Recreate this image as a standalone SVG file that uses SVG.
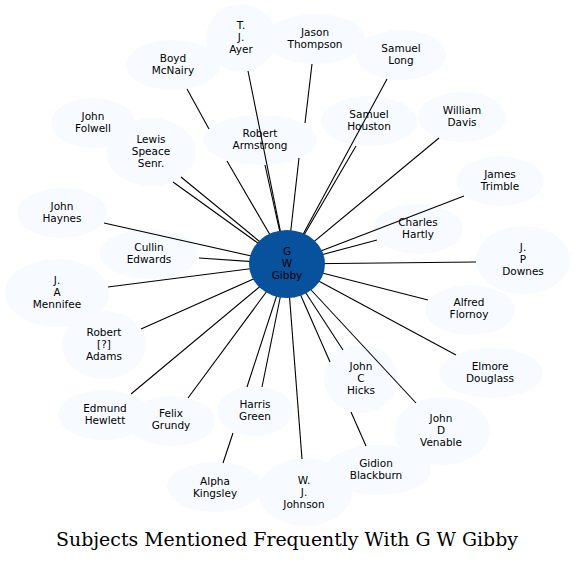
<svg xmlns="http://www.w3.org/2000/svg" width="576" height="562" viewBox="0 0 576 562">
<style>
.n ellipse{fill:#f7fbff;stroke:none}
.n text{font-family:"DejaVu Sans",sans-serif;font-size:10.5px;fill:#000;text-anchor:middle}
#edges line{stroke:#000;stroke-width:1.1}
.c ellipse{fill:#08519c}
.title{font-family:"DejaVu Serif",serif;font-size:18.9px;text-anchor:middle;fill:#000}
</style>
<rect width="576" height="562" fill="#fff"/>
<g id="node-folwell" class="n"><ellipse cx="93" cy="123" rx="42" ry="25"/><text x="93" y="120">John</text><text x="93" y="132">Folwell</text></g>
<g id="node-lewis" class="n"><ellipse cx="151" cy="152" rx="45" ry="34"/><text x="151" y="143">Lewis</text><text x="151" y="155">Speace</text><text x="151" y="167">Senr.</text></g>
<g id="node-ayer" class="n"><ellipse cx="241" cy="38" rx="35" ry="34"/><text x="241" y="29">T.</text><text x="241" y="41">J.</text><text x="241" y="53">Ayer</text></g>
<g id="node-thompson" class="n"><ellipse cx="315" cy="39" rx="50" ry="25"/><text x="315" y="36">Jason</text><text x="315" y="48">Thompson</text></g>
<g id="node-long" class="n"><ellipse cx="401" cy="55" rx="45" ry="25"/><text x="401" y="52">Samuel</text><text x="401" y="64">Long</text></g>
<g id="node-boyd" class="n"><ellipse cx="173" cy="65" rx="47" ry="25"/><text x="173" y="62">Boyd</text><text x="173" y="74">McNairy</text></g>
<g id="node-armstrong" class="n"><ellipse cx="260" cy="140" rx="57" ry="25"/><text x="260" y="137">Robert</text><text x="260" y="149">Armstrong</text></g>
<g id="node-houston" class="n"><ellipse cx="369" cy="121" rx="48" ry="25"/><text x="369" y="118">Samuel</text><text x="369" y="130">Houston</text></g>
<g id="node-davis" class="n"><ellipse cx="462" cy="117" rx="44" ry="25"/><text x="462" y="114">William</text><text x="462" y="126">Davis</text></g>
<g id="node-trimble" class="n"><ellipse cx="500" cy="181" rx="44" ry="25"/><text x="500" y="178">James</text><text x="500" y="190">Trimble</text></g>
<g id="node-hartly" class="n"><ellipse cx="418" cy="229" rx="45" ry="25"/><text x="418" y="226">Charles</text><text x="418" y="238">Hartly</text></g>
<g id="node-downes" class="n"><ellipse cx="523" cy="260" rx="47" ry="34"/><text x="523" y="251">J.</text><text x="523" y="263">P</text><text x="523" y="275">Downes</text></g>
<g id="node-haynes" class="n"><ellipse cx="62" cy="213" rx="45" ry="25"/><text x="62" y="210">John</text><text x="62" y="222">Haynes</text></g>
<g id="node-cullin" class="n"><ellipse cx="149" cy="254" rx="49" ry="25"/><text x="149" y="251">Cullin</text><text x="149" y="263">Edwards</text></g>
<g id="node-mennifee" class="n"><ellipse cx="57" cy="293" rx="52" ry="34"/><text x="57" y="284">J.</text><text x="57" y="296">A</text><text x="57" y="308">Mennifee</text></g>
<g id="node-adams" class="n"><ellipse cx="104" cy="345" rx="42" ry="34"/><text x="104" y="336">Robert</text><text x="104" y="348">[?]</text><text x="104" y="360">Adams</text></g>
<g id="node-hewlett" class="n"><ellipse cx="104" cy="415" rx="46" ry="25"/><text x="105" y="412">Edmund</text><text x="105" y="424">Hewlett</text></g>
<g id="node-grundy" class="n"><ellipse cx="171" cy="421" rx="44" ry="25"/><text x="171" y="417">Felix</text><text x="171" y="429">Grundy</text></g>
<g id="node-harris" class="n"><ellipse cx="255" cy="411" rx="38" ry="25"/><text x="255" y="408">Harris</text><text x="255" y="420">Green</text></g>
<g id="node-alpha" class="n"><ellipse cx="215" cy="487" rx="48" ry="25"/><text x="215" y="485">Alpha</text><text x="215" y="497">Kingsley</text></g>
<g id="node-gidion" class="n"><ellipse cx="378" cy="470" rx="53" ry="25"/><text x="376" y="467">Gidion</text><text x="376" y="479">Blackburn</text></g>
<g id="node-johnson" class="n"><ellipse cx="305" cy="492" rx="47" ry="34"/><text x="304" y="484">W.</text><text x="304" y="496">J.</text><text x="304" y="508">Johnson</text></g>
<g id="node-hicks" class="n"><ellipse cx="361" cy="379" rx="37" ry="34"/><text x="361" y="370">John</text><text x="361" y="382">C</text><text x="361" y="394">Hicks</text></g>
<g id="node-venable" class="n"><ellipse cx="442" cy="431" rx="48" ry="34"/><text x="441" y="422">John</text><text x="441" y="434">D</text><text x="441" y="446">Venable</text></g>
<g id="node-flornoy" class="n"><ellipse cx="470" cy="310" rx="45" ry="25"/><text x="469" y="306">Alfred</text><text x="469" y="318">Flornoy</text></g>
<g id="node-douglass" class="n"><ellipse cx="491" cy="373" rx="52" ry="25"/><text x="490" y="370">Elmore</text><text x="490" y="382">Douglass</text></g>
<g id="edges">
<line x1="248" y1="71" x2="287" y2="264"/>
<line x1="312" y1="64" x2="305" y2="123"/>
<line x1="299" y1="158" x2="287" y2="264"/>
<line x1="387" y1="79" x2="287" y2="264"/>
<line x1="187" y1="89" x2="209" y2="129"/>
<line x1="227" y1="161" x2="287" y2="264"/>
<line x1="265" y1="165" x2="287" y2="264"/>
<line x1="356" y1="146" x2="287" y2="264"/>
<line x1="439" y1="138" x2="287" y2="264"/>
<line x1="464" y1="196" x2="287" y2="264"/>
<line x1="377" y1="240" x2="287" y2="264"/>
<line x1="476" y1="262" x2="287" y2="264"/>
<line x1="173" y1="182" x2="287" y2="264"/>
<line x1="181" y1="177" x2="287" y2="264"/>
<line x1="104" y1="223" x2="287" y2="264"/>
<line x1="199" y1="258" x2="287" y2="264"/>
<line x1="108" y1="287" x2="287" y2="264"/>
<line x1="141" y1="329" x2="287" y2="264"/>
<line x1="131" y1="394" x2="287" y2="264"/>
<line x1="188" y1="398" x2="287" y2="264"/>
<line x1="223" y1="463" x2="233" y2="433"/>
<line x1="247" y1="387" x2="287" y2="264"/>
<line x1="262" y1="387" x2="287" y2="264"/>
<line x1="302" y1="459" x2="287" y2="264"/>
<line x1="366" y1="446" x2="351" y2="412"/>
<line x1="330" y1="362" x2="287" y2="264"/>
<line x1="343" y1="350" x2="287" y2="264"/>
<line x1="416" y1="403" x2="287" y2="264"/>
<line x1="456" y1="355" x2="287" y2="264"/>
<line x1="428" y1="300" x2="287" y2="264"/>
</g>
<g id="node-gibby" class="n c"><ellipse cx="287" cy="264" rx="38" ry="34"/><text x="287" y="255">G</text><text x="287" y="267">W</text><text x="287" y="279">Gibby</text></g>
<text class="title" x="287" y="546">Subjects Mentioned Frequently With G W Gibby</text>
</svg>
